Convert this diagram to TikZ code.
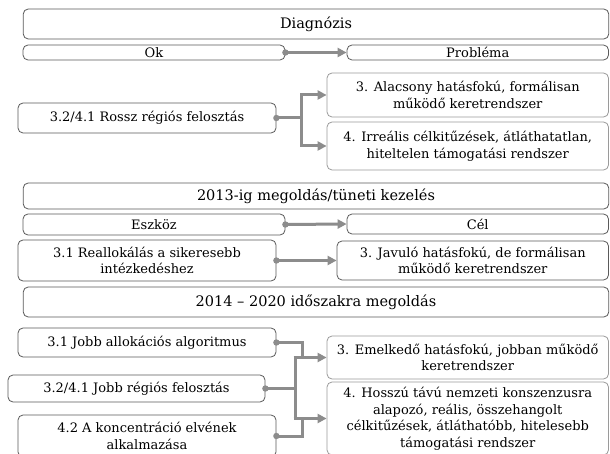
\documentclass[tikz,border=0pt]{standalone}
\usepackage{fontspec}
\setmainfont{DejaVu Serif}
\usetikzlibrary{arrows.meta}
\definecolor{edgedark}{HTML}{5A5A5A}
\definecolor{edgelight}{HTML}{9A9A9A}
\definecolor{linkgray}{HTML}{8C8C8C}
\tikzset{
  box/.style={draw=edgedark, line width=0.8pt, rounded corners=5pt, inner sep=0pt,
    align=center, font=\fontsize{13}{16.5}\selectfont},
  lbox/.style={box, draw=edgelight},
  head/.style={box, font=\fontsize{14.5}{17}\selectfont},
  link/.style={draw=linkgray, line width=3pt},
  arrowlink/.style={draw=linkgray, line width=3pt, -{Triangle[length=9pt,width=9pt]}},
  startdot/.style={fill=linkgray},
}
\newcommand{\linkdot}[1]{\fill[startdot] (#1) circle (3.2pt);}
\begin{document}
\begin{tikzpicture}[x=1pt,y=-1pt]
\useasboundingbox (0,0) rectangle (610,454);
\clip (0,0) rectangle (610,454);
\fill[white] (0,0) rectangle (610,454);

% Diagnózis block
\node[head, minimum width=585.5pt, minimum height=30pt] (diag) at (316,24) {Diagnózis};
\node[box, minimum width=262pt, minimum height=15pt] (ok) at (154,52.5) {Ok};
\node[box, minimum width=261.5pt, minimum height=15pt] (prob) at (477.75,52.5) {Probléma};
\node[box, minimum width=258pt, minimum height=30pt] (rossz) at (147,118) {3.2/4.1 Rossz régiós felosztás};
\node[lbox, minimum width=281.5pt, minimum height=44pt] (alac) at (467.75,95)
  {3. Alacsony hatásfokú, formálisan\\működő keretrendszer};
\node[lbox, minimum width=281.5pt, minimum height=48pt] (irre) at (467.75,146)
  {4. Irreális célkitűzések, átláthatatlan,\\hiteltelen támogatási rendszer};

\draw[arrowlink] (ok.east) -- (prob.west);
\linkdot{ok.east}
\coordinate (rj) at (301,118);
\draw[link] (rossz.east) -- (rj);
\draw[arrowlink] (rj) |- (alac.west);
\draw[arrowlink] (rj) |- (irre.west);
\linkdot{rossz.east}

% 2013 block
\node[head, minimum width=585.5pt, minimum height=26pt] (y13) at (316,196) {2013-ig megoldás/tüneti kezelés};
\node[box, minimum width=262pt, minimum height=21pt] (eszk) at (154,224.5) {Eszköz};
\node[box, minimum width=261.5pt, minimum height=20pt] (cel) at (477.75,224) {Cél};
\node[box, minimum width=258pt, minimum height=41pt] (real) at (147,260.5)
  {3.1 Reallokálás a sikeresebb\\intézkedéshez};
\node[box, minimum width=271.5pt, minimum height=39pt] (javu) at (472.75,260.5)
  {3. Javuló hatásfokú, de formálisan\\működő keretrendszer};

\draw[arrowlink] (eszk.east) -- (cel.west);
\linkdot{eszk.east}
\draw[arrowlink] (real.east) -- (javu.west);
\linkdot{real.east}

% 2014-2020 block
\node[head, minimum width=585.5pt, minimum height=30pt] (y14) at (316,302) {2014 – 2020 időszakra megoldás};
\node[box, minimum width=258pt, minimum height=29pt] (j31) at (147,342.5) {3.1 Jobb allokációs algoritmus};
\node[box, minimum width=257pt, minimum height=27pt] (jreg) at (136.5,388.5) {3.2/4.1 Jobb régiós felosztás};
\node[box, minimum width=258pt, minimum height=42pt] (konc) at (147,436)
  {4.2 A koncentráció elvének\\alkalmazása};
\node[lbox, minimum width=281.5pt, minimum height=43pt] (emel) at (467.75,357.5)
  {3. Emelkedő hatásfokú, jobban működő\\keretrendszer};
\node[lbox, minimum width=281.5pt, minimum height=73pt] (hossz) at (467.75,418.5)
  {4. Hosszú távú nemzeti konszenzusra\\alapozó, reális, összehangolt\\célkitűzések, átláthatóbb, hitelesebb\\támogatási rendszer};

\coordinate (ja) at (295,357.5);
\coordinate (jb) at (295,418.5);
\coordinate (ka) at (302,357.5);
\coordinate (kb) at (302,418.5);
\draw[link] (j31.east) -| (ka);
\draw[link] (konc.east) -| (kb);
\draw[link] ([yshift=-1.5pt]ja) -- ([yshift=1.5pt]jb);
\draw[link] (jreg.east) -- (jreg.east -| ja);
\draw[arrowlink] ([xshift=-1.5pt]ja) -- (emel.west);
\draw[arrowlink] ([xshift=-1.5pt]jb) -- (hossz.west);
\linkdot{j31.east}
\linkdot{jreg.east}
\linkdot{konc.east}
\end{tikzpicture}
\end{document}
